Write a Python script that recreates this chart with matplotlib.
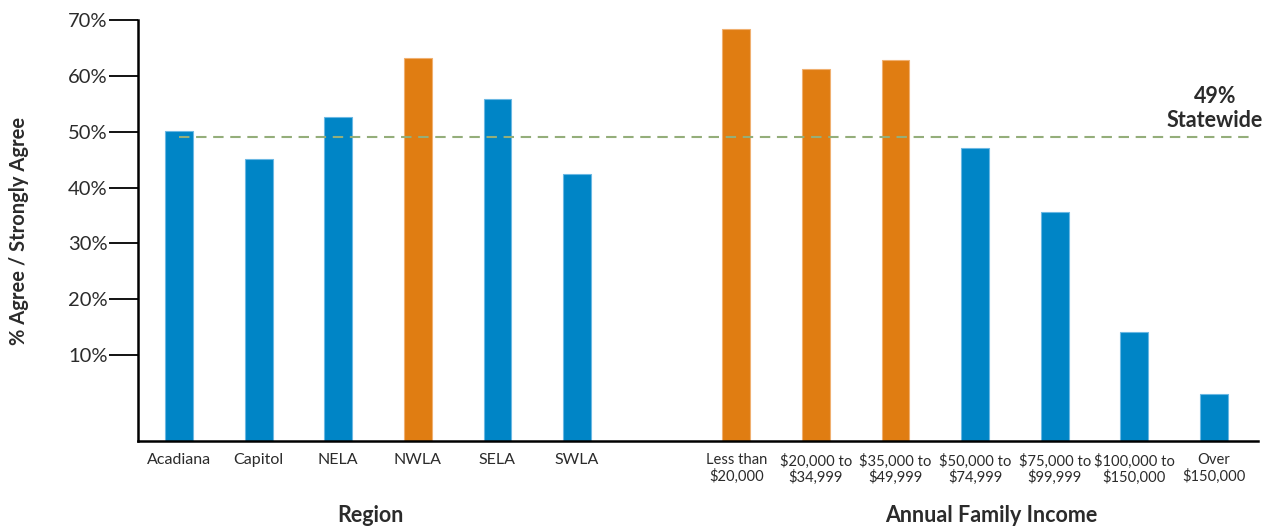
import matplotlib
matplotlib.use("Agg")
import matplotlib.pyplot as plt

plt.rcParams['font.family'] = ['Lato', 'DejaVu Sans']

# Survey results: % Agree / Strongly Agree
regions = ["Acadiana", "Capitol", "NELA", "NWLA", "SELA", "SWLA"]
region_values = [50.2, 45.1, 52.7, 63.2, 55.8, 42.5]
region_highlight = [False, False, False, True, False, False]

incomes = ["Less than\n$20,000", "$20,000 to\n$34,999", "$35,000 to\n$49,999",
           "$50,000 to\n$74,999", "$75,000 to\n$99,999", "$100,000 to\n$150,000",
           "Over\n$150,000"]
income_values = [68.4, 61.2, 62.8, 47.1, 35.6, 14.1, 3.0]
income_highlight = [True, True, True, False, False, False, False]

statewide = 49
y_ticks = [10, 20, 30, 40, 50, 60, 70]
y_tick_labels = ["10%", "20%", "30%", "40%", "50%", "60%", "70%"]

BLUE = "#0085C6"
ORANGE = "#E07D12"
EDGE_BLUE = "#6BB8E3"
EDGE_ORANGE = "#F0B070"
TEXT = "#2b2b2b"

fig = plt.figure(figsize=(12.73, 5.27), dpi=100)
ax = fig.add_axes([0.1084, 0.1632, 0.8796, 0.7988])

baseline = -5.4
region_pos = list(range(len(regions)))
income_pos = [len(regions) + 1 + i for i in range(len(incomes))]

def draw_group(pos, vals, hl):
    for x, v, h in zip(pos, vals, hl):
        ax.bar(x, v - baseline, bottom=baseline, width=0.35,
               color=ORANGE if h else BLUE,
               edgecolor=EDGE_ORANGE if h else EDGE_BLUE, linewidth=0.8,
               zorder=2)

draw_group(region_pos, region_values, region_highlight)
draw_group(income_pos, income_values, income_highlight)

# Statewide reference line
ax.plot([0, 13.45], [statewide, statewide], color="#94AE7A", lw=1.5,
        ls=(0, (5, 3.2)), zorder=3)
ax.text(13.01, 54.2, f"{statewide}%\nStatewide", ha="center", va="center",
        fontsize=15.5, fontweight="bold", color=TEXT, linespacing=1.15)

ax.set_xlim(-0.515, 13.55)
ax.set_ylim(baseline, 70)

ax.set_yticks(y_ticks)
ax.set_yticklabels(y_tick_labels, fontsize=14.5, color=TEXT)
ax.tick_params(axis="y", length=21, width=1.3, color="black", pad=1)

ax.set_xticks(region_pos + income_pos)
ax.set_xticklabels(regions + incomes, color=TEXT, linespacing=1.1)
for i, lbl in enumerate(ax.get_xticklabels()):
    lbl.set_fontsize(11.5 if i < len(regions) else 10.6)
ax.tick_params(axis="x", length=0, pad=9)

for s in ["top", "right"]:
    ax.spines[s].set_visible(False)
for s in ["left", "bottom"]:
    ax.spines[s].set_linewidth(1.8)
    ax.spines[s].set_color("black")

ax.set_ylabel("% Agree / Strongly Agree", fontsize=14.5, fontweight="bold",
              color=TEXT)
ax.yaxis.set_label_coords(-0.097, 0.5)

fig.text(370 / 1273, 1 - 515 / 527, "Region", ha="center", va="center",
         fontsize=15.5, fontweight="bold", color=TEXT)
fig.text(991 / 1273, 1 - 515 / 527, "Annual Family Income", ha="center",
         va="center", fontsize=15.5, fontweight="bold", color=TEXT)

fig.savefig("out.png", dpi=100)
